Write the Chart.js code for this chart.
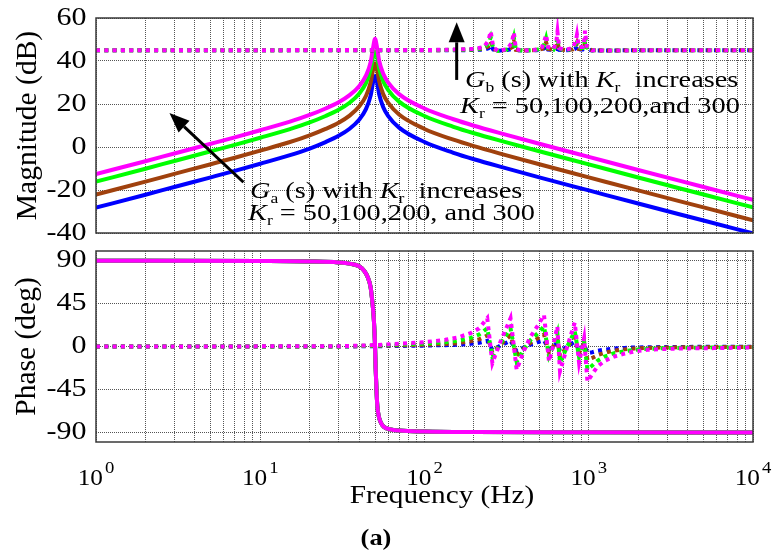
<!DOCTYPE html>
<html>
<head>
<meta charset="utf-8">
<script src="https://cdn.jsdelivr.net/npm/chart.js@4.4.1/dist/chart.umd.min.js"></script>
<style>
  body { margin: 0; background: #fff; width: 776px; height: 556px; overflow: hidden; position: relative; }
  #magChart { position: absolute; left: 0; top: 0; }
  #phaseChart { position: absolute; left: 0; top: 240px; }
</style>
</head>
<body>
<canvas id="magChart" width="776" height="240"></canvas>
<canvas id="phaseChart" width="776" height="316"></canvas>
<script>
// ---- data ----
// Ga(s) magnitude, Kr = 300 / 200 / 100 / 50
const fa = [1, 2, 3, 5, 7, 10, 15, 20, 25, 30, 35, 40, 44, 47, 48.5, 50, 51.5, 53, 56, 60, 70, 100, 150, 200, 300, 500, 1000, 2000, 5000, 10000];
const magA300 = [-12.6, -6.6, -3.0, 1.5, 4.5, 7.8, 11.7, 14.9, 17.9, 20.8, 24.1, 28.3, 33.2, 39.5, 45.7, 50.3, 45.9, 40.0, 34.2, 30.1, 24.6, 17.9, 12.9, 9.9, 6.1, 1.5, -4.6, -10.7, -18.6, -24.6];
const magA200 = [-16.1, -10.1, -6.5, -2.0, 1.0, 4.3, 8.2, 11.4, 14.4, 17.3, 20.6, 24.8, 29.7, 36.0, 41.5, 44.5, 41.7, 36.5, 30.7, 26.6, 21.1, 14.4, 9.4, 6.4, 2.6, -2.0, -8.1, -14.2, -22.1, -28.1];
const magA100 = [-22.1, -16.1, -12.5, -8.0, -5.0, -1.7, 2.2, 5.4, 8.4, 11.3, 14.6, 18.8, 23.7, 30.0, 35.6, 39.0, 35.8, 30.5, 24.7, 20.6, 15.1, 8.4, 3.4, 0.4, -3.4, -8.0, -14.1, -20.2, -28.1, -34.1];
const magA50  = [-28.2, -22.2, -18.6, -14.1, -11.1, -7.8, -3.9, -0.7, 2.3, 5.2, 8.5, 12.7, 17.6, 23.9, 29.6, 33.0, 29.8, 24.4, 18.6, 14.5, 9.0, 2.3, -2.7, -5.7, -9.5, -14.1, -20.2, -26.3, -34.2, -40.2];

// Gb(s) magnitude (dotted)
const fbm = [1, 100, 150, 200, 230, 245, 253, 262, 280, 320, 340, 350, 360, 400, 480, 520, 540, 550, 565, 610, 635, 645, 660, 720, 800, 835, 848, 870, 920, 940, 950, 970, 1050, 1300, 2000, 10000];
const magB300 = [45, 45.1, 45.3, 45.6, 46.5, 49.5, 53.8, 46.5, 44.6, 45.6, 48.5, 53.3, 45.5, 44.8, 45.3, 46.5, 50, 52.2, 46.5, 45.5, 49, 53.5, 46, 45.2, 46, 49.5, 52.2, 46.5, 46.5, 50, 54.1, 47, 45, 44.8, 45, 45];
const magB200 = [45, 45.1, 45.2, 45.4, 46, 48, 51, 46, 44.7, 45.4, 47.3, 51, 45.3, 44.8, 45.2, 46, 48.3, 50.5, 46, 45.3, 47.5, 51, 45.7, 45.1, 45.7, 48, 50, 46, 46, 48.3, 51.5, 46.3, 45, 44.8, 45, 45];
const magB100 = [45, 45, 45.1, 45.3, 45.6, 46.8, 49, 45.6, 44.8, 45.2, 46.3, 49, 45.2, 44.9, 45.1, 45.6, 47, 48.7, 45.6, 45.2, 46.5, 49, 45.4, 45.1, 45.4, 46.8, 48.3, 45.6, 45.6, 47, 49.3, 45.8, 45, 44.9, 45, 45];
const magB50  = [45, 45, 45, 45.1, 45.3, 45.9, 47.3, 45.3, 44.8, 45.1, 45.6, 47.3, 45.1, 44.9, 45, 45.3, 46, 47, 45.3, 45.1, 45.7, 47.3, 45.2, 45, 45.2, 45.9, 46.8, 45.3, 45.3, 46, 47.5, 45.4, 44.9, 44.9, 45, 45];

// Ga(s) phase (same for every Kr)
const fpa = [1, 10, 20, 30, 35, 40, 43, 45, 47, 48, 49, 49.6, 50, 50.4, 51, 51.6, 52.5, 54, 56.5, 62, 70, 100, 200, 1000, 10000];
const phA = [89.9, 89.5, 89, 88, 86.8, 84, 79, 73, 62, 49, 32, 15, 0, -22, -45, -62, -72, -79, -84, -86.8, -88, -89, -89.6, -89.9, -90];

// Gb(s) phase (dotted)
const fbp = [1, 30, 50, 70, 100, 134, 160, 191, 215, 241, 259, 290, 334, 364, 405, 443, 490, 534, 573, 610, 644, 668, 740, 822, 873, 937, 982, 1050, 1130, 1250, 1429, 1650, 1893, 2277, 3000, 4000, 5807, 10000];
const phB300 = [0, 0.2, 1.5, 3, 4.5, 7, 9.5, 14, 19, 29.6, -17.4, 5, 29.6, -24.4, -3.5, 10.5, 22, 33, -15.7, 2, 21, -26, 0, 25, -17, 8.7, -36.6, -29, -21, -15, -10.5, -7.5, -5.2, -3.5, -2.5, -2, -1.7, -1];
const phB200 = [0, 0.1, 1, 2, 3, 4.5, 6, 9, 12.5, 19, -11, 3, 19, -16, -2.5, 7, 14, 21, -10, 1, 14, -17, 0, 16, -11, 5.5, -24, -20, -15, -10.5, -7, -5, -3.5, -2.5, -1.7, -1.3, -1.1, -0.7];
const phB100 = [0, 0.1, 0.6, 1.2, 1.8, 2.7, 3.6, 5.5, 7.5, 11.5, -6.5, 2, 11.5, -9.5, -1.5, 4, 8.5, 12.5, -6, 0.5, 8, -10, 0, 9.5, -6.5, 3.3, -14, -12, -9, -6.5, -4.3, -3, -2.1, -1.5, -1, -0.8, -0.6, -0.4];
const phB50  = [0, 0, 0.3, 0.6, 0.9, 1.4, 1.9, 2.8, 3.8, 6, -3.5, 1, 6, -5, -0.8, 2, 4.5, 6.5, -3, 0.3, 4, -5, 0, 5, -3.5, 1.7, -7, -6, -4.5, -3.2, -2.2, -1.5, -1, -0.8, -0.5, -0.4, -0.3, -0.2];

// axes
const xGrid = [1,2,3,4,5,6,7,8,9,10,20,30,40,50,60,70,80,90,100,200,300,400,500,600,700,800,900,1000,2000,3000,4000,5000,6000,7000,8000,9000,10000];
const decades = [0, 1, 2, 3, 4];
const magTicks = [-40, -20, 0, 20, 40, 60];
const phaseTicks = [-90, -45, 0, 45, 90];

const colors = ['#ff00ff', '#00ff00', '#a0410d', '#0000ff']; // Kr = 300, 200, 100, 50

// ---- helpers ----
const SX = 1.18;   // the figure text is a bit wide
const FONT = '"Liberation Serif", "Times New Roman", serif';

function drawText(ctx, s, x, y, size, opts) {
  opts = opts || {};
  ctx.save();
  ctx.font = (opts.weight || '') + ' ' + (opts.style || '') + ' ' + size + 'px ' + FONT;
  ctx.fillStyle = '#000';
  ctx.textBaseline = opts.baseline || 'alphabetic';
  ctx.textAlign = 'left';
  const sx = opts.sx || SX;
  const w = ctx.measureText(s).width * sx;
  let x0 = x;
  if (opts.align === 'center') x0 = x - w / 2;
  else if (opts.align === 'right') x0 = x - w;
  ctx.translate(x0, y);
  ctx.scale(sx, 1);
  ctx.fillText(s, 0, 0);
  ctx.restore();
  return w;
}

function drawRich(ctx, parts, x, y, size) {
  let cx = x;
  parts.forEach(p => {
    const sz = p.sub ? size * 0.62 : size;
    const dy = p.sub ? size * 0.22 : 0;
    cx += drawText(ctx, p.t, cx, y + dy, sz, { style: p.it ? 'italic' : '' });
  });
}

function drawVLabel(ctx, s, x, y, size) {
  ctx.save();
  ctx.translate(x, y);
  ctx.rotate(-Math.PI / 2);
  ctx.font = size + 'px ' + FONT;
  ctx.fillStyle = '#000';
  ctx.textAlign = 'center';
  ctx.textBaseline = 'middle';
  ctx.fillText(s, 0, 0);
  ctx.restore();
}

function arrow(ctx, x1, y1, x2, y2) {
  const ang = Math.atan2(y2 - y1, x2 - x1);
  const L = 20, W = 8;
  const bx = x2 - L * Math.cos(ang), by = y2 - L * Math.sin(ang);
  ctx.save();
  ctx.strokeStyle = '#000';
  ctx.fillStyle = '#000';
  ctx.lineWidth = 3;
  ctx.beginPath();
  ctx.moveTo(x1, y1);
  ctx.lineTo(bx, by);
  ctx.stroke();
  ctx.beginPath();
  ctx.moveTo(x2, y2);
  ctx.lineTo(bx + W * Math.sin(ang), by - W * Math.cos(ang));
  ctx.lineTo(bx - W * Math.sin(ang), by + W * Math.cos(ang));
  ctx.closePath();
  ctx.fill();
  ctx.restore();
}

function pts(xs, ys) { return xs.map((x, i) => ({ x: x, y: ys[i] })); }

function solid(data, i) {
  return { data: data, borderColor: colors[i], borderWidth: 4, pointRadius: 0, cubicInterpolationMode: 'monotone', borderCapStyle: 'round', borderJoinStyle: 'round' };
}
function dotted(data, i) {
  return { data: data, borderColor: colors[i], borderWidth: 4, pointRadius: 0, tension: 0, borderDash: [4, 4.3], borderCapStyle: 'butt' };
}

function xScale(h) {
  return {
    type: 'logarithmic', min: 1, max: 10000,
    afterBuildTicks: s => { s.ticks = xGrid.map(v => ({ value: v })); },
    afterFit: s => { s.height = h; },
    ticks: { display: false },
    grid: { color: '#555', lineWidth: 1, drawTicks: false },
    border: { display: false, dash: [1, 1] }
  };
}
function yScale(min, max, ticks) {
  return {
    min: min, max: max,
    afterBuildTicks: s => { s.ticks = ticks.map(v => ({ value: v })); },
    afterFit: s => { s.width = 96; },
    ticks: { display: false },
    grid: { color: '#555', lineWidth: 1, drawTicks: false },
    border: { display: false, dash: [1, 1] }
  };
}

function frame(chart) {
  const a = chart.chartArea, ctx = chart.ctx;
  ctx.save();
  ctx.strokeStyle = '#3a3a3a';
  ctx.lineWidth = 1.5;
  ctx.strokeRect(a.left, a.top, a.right - a.left, a.bottom - a.top);
  ctx.restore();
}

function yLabels(chart, ticks) {
  const y = chart.scales.y, ctx = chart.ctx;
  ticks.forEach(v => {
    drawText(ctx, String(v), chart.chartArea.left - 9.5, y.getPixelForValue(v), 25, { align: 'right', baseline: 'middle', sx: 1.2 });
  });
}

// ---- magnitude plot ----
const magPlugin = {
  id: 'magText',
  afterDatasetsDraw(chart) {
    const ctx = chart.ctx, x = chart.scales.x, y = chart.scales.y;
    frame(chart);
    yLabels(chart, magTicks);
    drawVLabel(ctx, 'Magnitude (dB)', 28, (chart.chartArea.top + chart.chartArea.bottom) / 2, 29.5);
    arrow(ctx, x.getPixelForValue(7.9), y.getPixelForValue(-16.4), x.getPixelForValue(2.8), y.getPixelForValue(15.8));
    arrow(ctx, x.getPixelForValue(157), y.getPixelForValue(31.2), x.getPixelForValue(157), y.getPixelForValue(58));
    drawRich(ctx, [{ t: 'G', it: 1 }, { t: 'a', sub: 1 }, { t: ' (s) with ' }, { t: 'K', it: 1 }, { t: 'r', sub: 1 }, { t: '  increases' }], 250, 198, 24);
    drawRich(ctx, [{ t: 'K', it: 1 }, { t: 'r', sub: 1 }, { t: ' = 50,100,200, and 300' }], 248, 220, 24);
    drawRich(ctx, [{ t: 'G', it: 1 }, { t: 'b', sub: 1 }, { t: ' (s) with ' }, { t: 'K', it: 1 }, { t: 'r', sub: 1 }, { t: '  increases' }], 465, 87, 24);
    drawRich(ctx, [{ t: 'K', it: 1 }, { t: 'r', sub: 1 }, { t: ' = 50,100,200,and 300' }], 460, 113, 24);
  }
};

new Chart(document.getElementById('magChart'), {
  type: 'line',
  data: {
    datasets: [
      dotted(pts(fbm, magB300), 0), dotted(pts(fbm, magB200), 1), dotted(pts(fbm, magB100), 2), dotted(pts(fbm, magB50), 3),
      solid(pts(fa, magA300), 0), solid(pts(fa, magA200), 1), solid(pts(fa, magA100), 2), solid(pts(fa, magA50), 3)
    ]
  },
  options: {
    responsive: false, animation: false, devicePixelRatio: 1,
    layout: { padding: { left: 0, right: 23, top: 18, bottom: 0 } },
    plugins: { legend: { display: false }, tooltip: { enabled: false } },
    scales: { x: xScale(7), y: yScale(-40, 60, magTicks) }
  },
  plugins: [magPlugin]
});

// ---- phase plot ----
const phasePlugin = {
  id: 'phaseText',
  afterDatasetsDraw(chart) {
    const ctx = chart.ctx, x = chart.scales.x;
    frame(chart);
    yLabels(chart, phaseTicks);
    drawVLabel(ctx, 'Phase (deg)', 27.5, (chart.chartArea.top + chart.chartArea.bottom) / 2, 29.5);
    decades.forEach(d => {
      ctx.save();
      ctx.font = '23px ' + FONT;
      const w1 = ctx.measureText('10').width * 1.1;
      ctx.font = '17px ' + FONT;
      const w2 = ctx.measureText(String(d)).width * 1.1;
      ctx.restore();
      const cx = x.getPixelForValue(Math.pow(10, d));
      const x0 = cx - (w1 + w2 + 2) / 2;
      drawText(ctx, '10', x0, 245, 23, { sx: 1.1 });
      drawText(ctx, String(d), x0 + w1 + 2, 233, 17, { sx: 1.1 });
    });
    drawText(ctx, 'Frequency (Hz)', 442, 263, 25, { align: 'center', sx: 1.17 });
    drawText(ctx, '(a)', 376, 305, 24, { align: 'center', weight: 'bold', sx: 1.1 });
  }
};

new Chart(document.getElementById('phaseChart'), {
  type: 'line',
  data: {
    datasets: [
      solid(pts(fpa, phA), 0), solid(pts(fpa, phA), 1), solid(pts(fpa, phA), 2), solid(pts(fpa, phA), 3),
      dotted(pts(fbp, phB300), 0), dotted(pts(fbp, phB200), 1), dotted(pts(fbp, phB100), 2), dotted(pts(fbp, phB50), 3)
    ]
  },
  options: {
    responsive: false, animation: false, devicePixelRatio: 1,
    layout: { padding: { left: 0, right: 23, top: 11, bottom: 0 } },
    plugins: { legend: { display: false }, tooltip: { enabled: false } },
    scales: { x: xScale(114), y: yScale(-100, 100, phaseTicks) }
  },
  plugins: [phasePlugin]
});
</script>
</body>
</html>
